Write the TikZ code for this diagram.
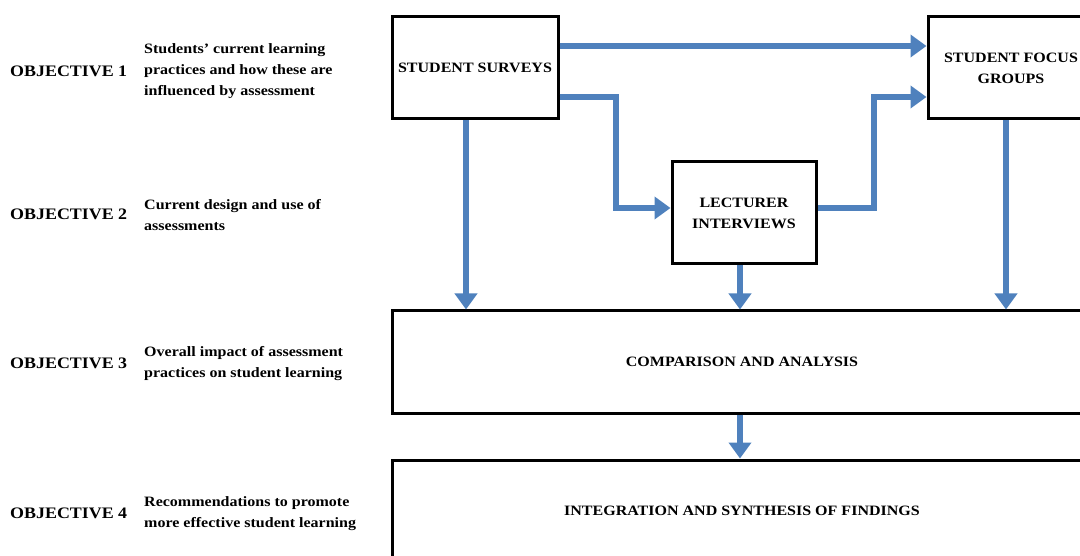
\documentclass[tikz,border=0pt]{standalone}
\usepackage{fontspec}
\setmainfont{Liberation Serif}[FakeStretch=1.12]
\usetikzlibrary{arrows.meta,positioning,calc}

\begin{document}
\begin{tikzpicture}[
  x=1pt, y=-1pt,
  font=\bfseries,
  stage/.style={
    draw=black, line width=3pt, align=center, fill=white,
    inner sep=2pt, font=\fontsize{14.3}{21}\selectfont\bfseries
  },
  small/.style ={stage, minimum width=166pt, minimum height=102pt},
  wide/.style  ={stage, minimum width=700pt, minimum height=102pt},
  objlbl/.style={anchor=west, inner sep=0pt, font=\fontsize{16}{19}\selectfont\bfseries},
  desc/.style  ={anchor=west, align=left, inner sep=0pt, font=\fontsize{14.3}{21}\selectfont\bfseries},
  flow/.style  ={-{Triangle[width=22pt, length=16pt]}, line width=6pt, draw=flowblue}
]
\definecolor{flowblue}{HTML}{4F81BD}

\useasboundingbox (0,0) rectangle (1080,556);
\clip (0,0) rectangle (1080,556);

% =================== OBJECTIVES ===================
\node[objlbl] (obj1) at (10, 71)  {OBJECTIVE 1};
\node[objlbl] (obj2) at (10, 214) {OBJECTIVE 2};
\node[objlbl] (obj3) at (10, 363) {OBJECTIVE 3};
\node[objlbl] (obj4) at (10, 513) {OBJECTIVE 4};

\node[desc] (desc1) at (144, 71)  {Students’ current learning\\practices and how these are\\influenced by assessment};
\node[desc] (desc2) at (144, 215) {Current design and use of\\assessments};
\node[desc] (desc3) at (144, 364) {Overall impact of assessment\\practices on student learning};
\node[desc] (desc4) at (144, 514) {Recommendations to promote\\more effective student learning};

% =================== DATA COLLECTION ===================
\node[small] (surveys) at (475, 68)  {STUDENT SURVEYS};
\node[small] (focus)   at (1011, 68) {STUDENT FOCUS\\GROUPS};
\node[small, minimum width=144pt] (lect) at (744, 213) {LECTURER\\INTERVIEWS};

% =================== ANALYSIS ===================
\node[wide] (compare) at (742, 362) {COMPARISON AND ANALYSIS};
\node[wide] (integr)  at (742, 511) {INTEGRATION AND SYNTHESIS OF FINDINGS};

% =================== ARROWS ===================
% Surveys -> Focus groups / Interviews
\draw[flow] ([yshift=22pt]surveys.east) -- ([yshift=22pt]focus.west);
\draw[flow] ([yshift=-29pt]surveys.east) -- ++(56,0) |- ([yshift=5pt]lect.west);

% Interviews -> Focus groups
\draw[flow] ([yshift=5pt]lect.east) -- ++(56,0) |- ([yshift=-29pt]focus.west);

% Into comparison and analysis
\draw[flow] ([xshift=-9pt]surveys.south) -- ([xshift=-9pt]surveys.south |- compare.north);
\draw[flow] ([xshift=-4pt]lect.south)    -- ([xshift=-4pt]lect.south |- compare.north);
\draw[flow] ([xshift=-5pt]focus.south)   -- ([xshift=-5pt]focus.south |- compare.north);

% Comparison -> Integration
\draw[flow] ([xshift=-2pt]compare.south) -- ([xshift=-2pt]compare.south |- integr.north);

\end{tikzpicture}
\end{document}
